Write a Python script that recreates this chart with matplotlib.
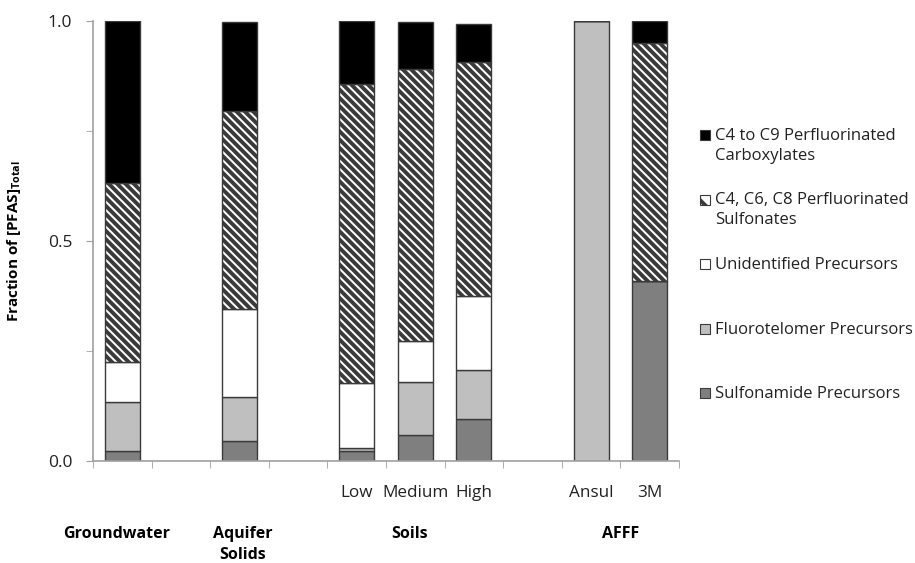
import numpy as np
import matplotlib
matplotlib.use('Agg')
import matplotlib.pyplot as plt
from matplotlib.patches import Rectangle
from matplotlib.transforms import blended_transform_factory

plt.rcParams['font.family'] = ['Open Sans', 'DejaVu Sans']
plt.rcParams['mathtext.fontset'] = 'custom'
plt.rcParams['mathtext.bf'] = 'Open Sans:bold'
plt.rcParams['mathtext.rm'] = 'Open Sans'
plt.rcParams['hatch.linewidth'] = 2.8
plt.rcParams['hatch.color'] = 'black'

# slots along the x axis (empty strings are gaps)
slots = ['', '', '', '', 'Low', 'Medium', 'High', '', 'Ansul', '3M']
bar_slots = [0, 2, 4, 5, 6, 8, 9]

# fractions per bar, bottom to top
sulfonamide = [0.023, 0.045, 0.023, 0.059, 0.095, 0.0, 0.408]
fluorotelomer = [0.110, 0.100, 0.007, 0.121, 0.112, 1.0, 0.0]
unidentified = [0.092, 0.200, 0.147, 0.093, 0.168, 0.0, 0.0]
sulfonates = [0.407, 0.450, 0.680, 0.618, 0.532, 0.0, 0.542]
carboxylates = [0.368, 0.203, 0.143, 0.107, 0.086, 0.0, 0.050]

groups = ['Groundwater', 'Aquifer\nSolids', 'Soils', 'AFFF']
group_x = [-0.1, 2.05, 4.9, 8.5]

series = [
    ('Sulfonamide Precursors', sulfonamide, '#7f7f7f', None),
    ('Fluorotelomer Precursors', fluorotelomer, '#bfbfbf', None),
    ('Unidentified Precursors', unidentified, 'white', None),
    ('C4, C6, C8 Perfluorinated\nSulfonates', sulfonates, 'white', '\\\\\\\\'),
    ('C4 to C9 Perfluorinated\nCarboxylates', carboxylates, 'black', None),
]

fig = plt.figure(figsize=(9.15, 5.63), dpi=100)
ax = fig.add_axes([93/915, 1-461/563, (679-93)/915, (461-21)/563])

bottom = np.zeros(len(bar_slots))
for name, vals, col, hat in series:
    vals = np.array(vals)
    ax.bar(bar_slots, vals, width=0.6, bottom=bottom, color=col,
           edgecolor='#3a3a3a', linewidth=1.0, hatch=hat)
    bottom += vals

ax.set_xlim(-0.5, 9.5)
ax.set_ylim(0, 1)

ax.set_yticks([0, 0.5, 1.0])
ax.set_yticklabels(['0.0', '0.5', '1.0'])
ax.set_yticks([0.25, 0.75], minor=True)
ax.tick_params(axis='y', which='both', length=5, color='#a0a0a0', labelsize=12.5,
               labelcolor='#222222', pad=10)

ax.set_xticks(range(len(slots)))
ax.set_xticklabels(slots)
ax.set_xticks(np.arange(-0.5, 10, 1), minor=True)
ax.tick_params(axis='x', which='major', length=0, labelsize=12.3, pad=17,
               labelcolor='#222222')
ax.tick_params(axis='x', which='minor', length=5, color='#a0a0a0')

for s in ['top', 'right']:
    ax.spines[s].set_visible(False)
for s in ['left', 'bottom']:
    ax.spines[s].set_color('#a0a0a0')
    ax.spines[s].set_linewidth(1.2)

ax.set_ylabel(r'Fraction of [PFAS]$_{\mathbf{Total}}$', fontsize=11,
              fontweight='bold', labelpad=18)

trans = blended_transform_factory(ax.transData, fig.transFigure)
for g, gx in zip(groups, group_x):
    ax.text(gx, 1-526/563, g, transform=trans, ha='center', va='top',
            fontsize=11.5, fontweight='bold', linespacing=1.45)

# legend, evenly spaced like the original
for i, (name, vals, col, hat) in enumerate(series[::-1]):
    yc = 1 - (135 + i*64.5)/563
    sq = Rectangle((705/915 - 5/915, yc - 5/563), 10/915, 10/563,
                   transform=fig.transFigure, facecolor=col,
                   edgecolor='#3a3a3a', linewidth=0.8,
                   hatch='\\' if hat else None)
    fig.patches.append(sq)
    fig.text(715/915, yc + 7/563, name, ha='left', va='top', fontsize=12,
             color='#222222', linespacing=1.3)

fig.savefig('out.png', dpi=100)
